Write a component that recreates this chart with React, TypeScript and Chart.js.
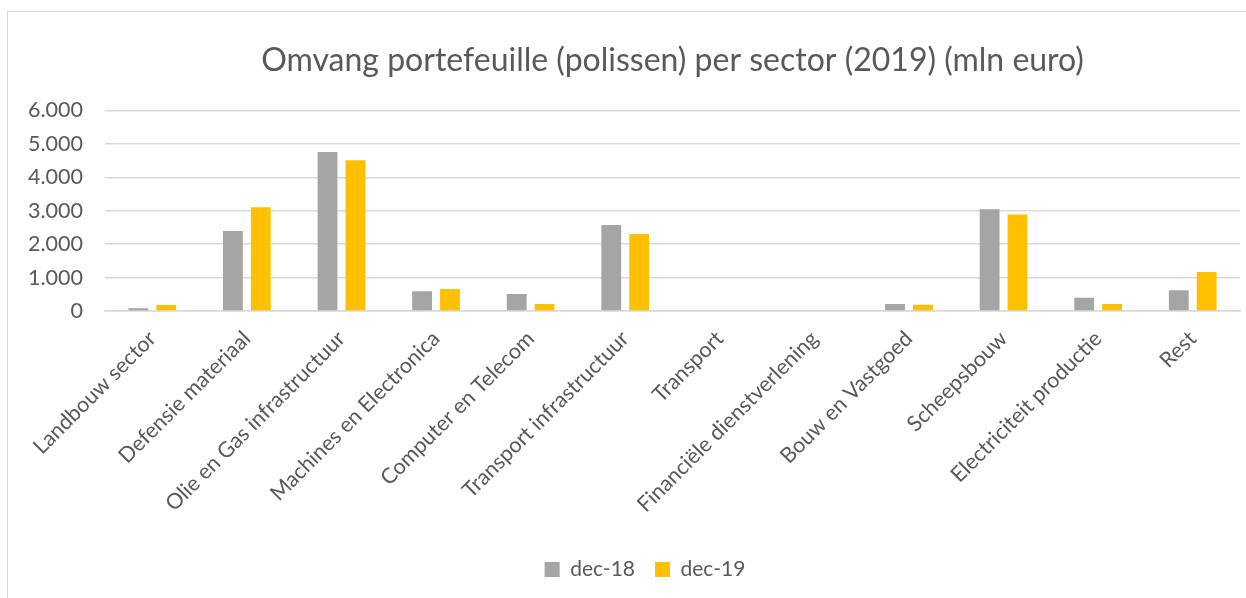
import React, { useEffect, useRef } from "react";
import { Chart, registerables } from "chart.js";

Chart.register(...registerables);

const categories = [
  "Landbouw sector",
  "Defensie materiaal",
  "Olie en Gas infrastructuur",
  "Machines en Electronica",
  "Computer en Telecom",
  "Transport infrastructuur",
  "Transport",
  "Financiële dienstverlening",
  "Bouw en Vastgoed",
  "Scheepsbouw",
  "Electriciteit productie",
  "Rest",
];

const dec18 = [80, 2390, 4755, 590, 510, 2570, 0, 0, 210, 3045, 400, 620];
const dec19 = [180, 3100, 4510, 660, 210, 2300, 0, 0, 190, 2890, 210, 1165];

const seriesLabels = ["dec-18", "dec-19"];
const yTicks = [0, 1000, 2000, 3000, 4000, 5000, 6000];

const fmt = (v: number) => {
  const s = Math.round(v).toString();
  return s.replace(/\B(?=(\d{3})+(?!\d))/g, ".");
};

const FONT = "Lato";

const shiftLegend = {
  id: "shiftLegend",
  afterLayout(chart: any) {
    const l = chart.legend;
    if (l) l.left += 42;
  },
};

export default function App() {
  const ref = useRef<HTMLCanvasElement | null>(null);

  useEffect(() => {
    if (!ref.current) return;
    const chart = new Chart(ref.current, {
      type: "bar",
      data: {
        labels: categories,
        datasets: [
          {
            label: seriesLabels[0],
            data: dec18,
            backgroundColor: "#A5A5A5",
            categoryPercentage: 0.59,
            barPercentage: 0.71,
          },
          {
            label: seriesLabels[1],
            data: dec19,
            backgroundColor: "#FFC000",
            categoryPercentage: 0.59,
            barPercentage: 0.71,
          },
        ],
      },
      plugins: [shiftLegend],
      options: {
        animation: false,
        responsive: false,
        maintainAspectRatio: false,
        layout: { padding: { left: 0, right: 6, top: 0, bottom: 8 } },
        plugins: {
          title: {
            display: true,
            fullSize: false,
            text: "Omvang portefeuille (polissen) per sector (2019) (mln euro)",
            color: "#595959",
            font: { family: FONT, size: 32, weight: "normal" },
            padding: { top: 29, bottom: 31 },
          },
          legend: {
            position: "bottom",
            labels: {
              color: "#595959",
              font: { family: FONT, size: 21 },
              boxWidth: 15,
              boxHeight: 15,
              padding: 20,
            },
          },
          tooltip: { enabled: false },
        },
        scales: {
          x: {
            grid: { display: false, drawTicks: false },
            border: { color: "#d9d9d9", width: 1.5 },
            afterFit: (axis: any) => {
              axis.height = 228;
            },
            ticks: {
              color: "#595959",
              font: { family: FONT, size: 21.5 },
              maxRotation: 45,
              minRotation: 45,
              autoSkip: false,
              padding: 15,
            },
          },
          y: {
            min: 0,
            max: 6000,
            afterBuildTicks: (axis: any) => {
              axis.ticks = yTicks.map((v) => ({ value: v }));
            },
            afterFit: (axis: any) => {
              axis.width = 97;
            },
            grid: { color: "#d9d9d9", lineWidth: 1.5, drawTicks: false },
            border: { display: false },
            ticks: {
              color: "#595959",
              font: { family: FONT, size: 21.5 },
              padding: 22,
              callback: (v: any) => fmt(Number(v)),
            },
          },
        },
      },
    });
    return () => chart.destroy();
  }, []);

  return (
    <div
      style={{
        position: "absolute",
        left: 7,
        top: 11,
        width: 1250,
        height: 600,
        border: "1px solid #d9d9d9",
        background: "#fff",
        boxSizing: "border-box",
      }}
    >
      <canvas ref={ref} width={1238} height={586} style={{ display: "block" }} />
    </div>
  );
}
